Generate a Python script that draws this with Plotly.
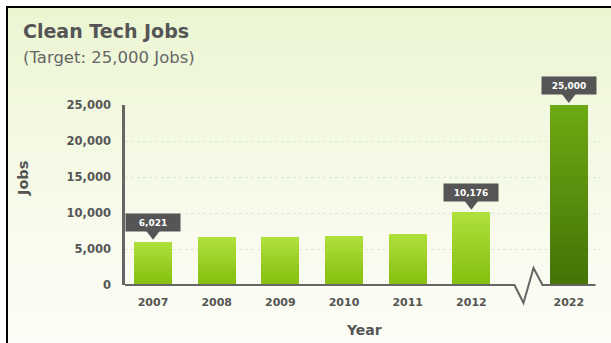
import plotly.graph_objects as go

# ---- data -------------------------------------------------------------
years = ["2007", "2008", "2009", "2010", "2011", "2012", "2022"]
jobs = [6021, 6600, 6650, 6800, 7050, 10176, 25000]
x_pos = [0, 1, 2, 3, 4, 5, 6.53]          # 2022 sits past the axis break
labelled_years = ["2007", "2012", "2022"]
target_year = "2022"
y_ticks = [0, 5000, 10000, 15000, 20000, 25000]

# ---- layout geometry (pixels) -----------------------------------------
W, H = 611, 343
ML, MR, MT, MB = 125, 11, 105, 58
PW, PH = W - ML - MR, H - MT - MB
X_RANGE = [-0.44, 7.02]
Y_RANGE = [0, 25000]
UNIT_PX = PW / (X_RANGE[1] - X_RANGE[0])
BREAK_AT = 6.07


def px_x(px):
    return (px - ML) / PW


def px_y(py):
    return (H - MB - py) / PH


def lerp(c0, c1, t):
    a = [int(c0[i:i + 2], 16) for i in (1, 3, 5)]
    b = [int(c1[i:i + 2], 16) for i in (1, 3, 5)]
    return "rgb(%d,%d,%d)" % tuple(round(a[i] + (b[i] - a[i]) * t) for i in range(3))


LIGHT = ("#84be0e", "#b0e03c")   # bottom, top
DARK = ("#457207", "#6cab12")

fig = go.Figure()

# bars, drawn as stacked slices to give a vertical gradient
N = 18
for k in range(N):
    t = (k + 0.5) / N
    colors = [lerp(*(DARK if y == target_year else LIGHT), t) for y in years]
    fig.add_trace(go.Bar(
        x=x_pos,
        y=[v / N for v in jobs],
        base=[v * k / N for v in jobs],
        width=0.6,
        marker=dict(color=colors, line=dict(width=0)),
        hoverinfo="skip",
        showlegend=False,
    ))

shapes = []
annotations = []

# background wash
STRIPS = 30
top_py, bot_py = 8, H
for i in range(STRIPS):
    y0 = top_py + (bot_py - top_py) * i / STRIPS
    y1 = top_py + (bot_py - top_py) * (i + 1) / STRIPS
    t = ((i + 0.5) / STRIPS) ** 0.8
    shapes.append(dict(type="rect", xref="paper", yref="paper",
                       x0=px_x(8), x1=px_x(W), y0=px_y(y1), y1=px_y(y0),
                       fillcolor=lerp("#ebf5d0", "#fcfdf7", t),
                       line=dict(width=0), layer="below"))

# frame lines on the left and top
shapes.append(dict(type="line", xref="paper", yref="paper",
                   x0=px_x(7), x1=px_x(7), y0=px_y(6), y1=px_y(H),
                   line=dict(color="black", width=2)))
shapes.append(dict(type="line", xref="paper", yref="paper",
                   x0=px_x(6), x1=px_x(W), y0=px_y(7), y1=px_y(7),
                   line=dict(color="black", width=2)))

# baseline with a zig-zag break before the target year
zig = [(-25, 0), (-16, -18), (-6, 17), (3, 0)]
pts = [(X_RANGE[0], 0)]
pts += [(BREAK_AT + dx / UNIT_PX, dy / PH) for dx, dy in zig]
pts += [(6.95, 0)]
path = "M " + " L ".join("%.4f,%.4f" % p for p in pts)
shapes.append(dict(type="path", xref="x", yref="paper", path=path,
                   line=dict(color="#666666", width=2), layer="above"))

# value call-outs
for yr, xp, v in zip(years, x_pos, jobs):
    if yr not in labelled_years:
        continue
    shapes.append(dict(type="path", xref="x", yref="paper",
                       xsizemode="pixel", ysizemode="pixel",
                       xanchor=xp, yanchor=v / Y_RANGE[1],
                       path="M -7,11 L 7,11 L 0,2 Z",
                       fillcolor="#555555", line=dict(width=0), layer="above"))
    annotations.append(dict(x=xp, y=v, xref="x", yref="y",
                            yanchor="bottom", yshift=10, showarrow=False,
                            text=f"{v:,}", bgcolor="#555555",
                            width=52, height=15, borderpad=1,
                            font=dict(family="DejaVu Sans", size=9,
                                      color="white", weight="bold")))

# titles
annotations.append(dict(xref="paper", yref="paper", x=px_x(21), y=px_y(31.5),
                        xanchor="left", yanchor="middle", showarrow=False,
                        text="Clean Tech Jobs",
                        font=dict(family="DejaVu Sans", size=19,
                                  color="#555555", weight="bold")))
annotations.append(dict(xref="paper", yref="paper", x=px_x(21), y=px_y(57),
                        xanchor="left", yanchor="middle", showarrow=False,
                        text="(Target: 25,000 Jobs)",
                        font=dict(family="DejaVu Sans", size=16.5,
                                  color="#666666")))
annotations.append(dict(xref="paper", yref="paper", x=px_x(23), y=px_y(179),
                        xanchor="center", yanchor="middle", showarrow=False,
                        textangle=-90, text="Jobs",
                        font=dict(family="DejaVu Sans", size=14.5,
                                  color="#555555", weight="bold")))
annotations.append(dict(xref="paper", yref="paper", x=px_x(364), y=px_y(330),
                        xanchor="center", yanchor="middle", showarrow=False,
                        text="Year",
                        font=dict(family="DejaVu Sans", size=14,
                                  color="#555555", weight="bold")))

fig.update_layout(
    width=W, height=H,
    margin=dict(l=ML, r=MR, t=MT, b=MB, pad=0),
    paper_bgcolor="white",
    plot_bgcolor="rgba(253,254,250,0.82)",
    barmode="overlay",
    bargap=0,
    showlegend=False,
    shapes=shapes,
    annotations=annotations,
    xaxis=dict(range=X_RANGE, tickvals=x_pos, ticktext=years,
               showgrid=False, zeroline=False, showline=False, ticks="",
               ticklabelstandoff=9, fixedrange=True,
               tickfont=dict(family="DejaVu Sans", size=11,
                             color="#555555", weight="bold")),
    yaxis=dict(range=Y_RANGE, tickvals=y_ticks, tickformat=",d",
               showgrid=True, gridcolor="#dfe6cf", griddash="dot",
               gridwidth=1, zeroline=False, showline=True,
               linecolor="#666666", linewidth=2.5, ticks="",
               ticklabelstandoff=9, fixedrange=True,
               tickfont=dict(family="DejaVu Sans", size=11.5,
                             color="#555555", weight="bold")),
)

fig.write_html("out.html")
